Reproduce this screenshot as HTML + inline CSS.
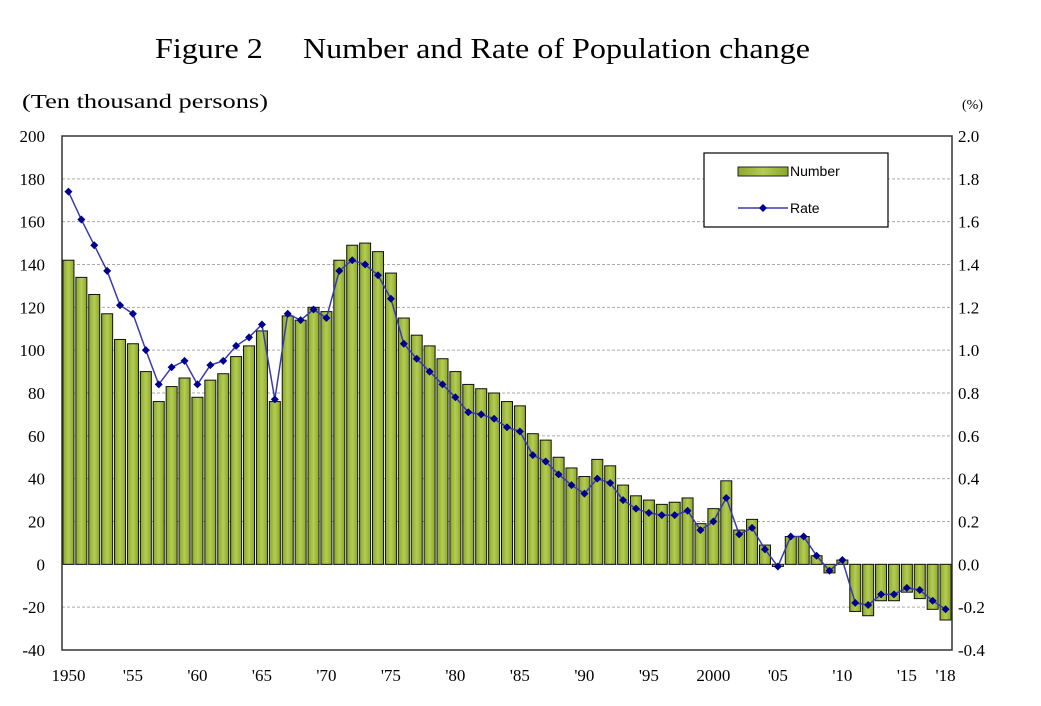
<!DOCTYPE html>
<html><head><meta charset="utf-8"><style>
body{margin:0;background:#fff;}
svg text{font-family:"Liberation Serif",serif;}
</style></head><body>
<svg width="1041" height="701" xmlns="http://www.w3.org/2000/svg">
<defs><linearGradient id="g" x1="0" x2="1"><stop offset="0" stop-color="#8aa828"/><stop offset="0.5" stop-color="#b5cc55"/><stop offset="1" stop-color="#8aa828"/></linearGradient></defs>
<text x="155" y="58" font-size="28" textLength="655" lengthAdjust="spacingAndGlyphs">Figure 2　 Number and Rate of Population change</text>
<text x="22" y="108" font-size="20" textLength="246" lengthAdjust="spacingAndGlyphs">(Ten thousand persons)</text>
<text x="962" y="109" font-size="14">(%)</text>
<g id="grid"></g><g id="bars"></g><g id="line"></g><g id="axes"></g>
<g>
<rect x="704" y="153" width="184" height="74" fill="#fff" stroke="#000" stroke-width="1.2"/>
<rect x="738" y="167" width="50" height="9" fill="url(#g)" stroke="#222"/>
<text x="790" y="176" font-size="14" style="font-family:'Liberation Sans',sans-serif">Number</text>
<line x1="738" y1="208" x2="788" y2="208" stroke="#3a3ab0" stroke-width="1.5"/>
<path d="M763 204 L767 208 L763 212 L759 208Z" fill="#000090"/>
<text x="790" y="213" font-size="14" style="font-family:'Liberation Sans',sans-serif">Rate</text>
</g>
</svg>
<script>
const years=[];for(let y=1950;y<=2018;y++)years.push(y);
const numbers=[142,134,126,117,105,103,90,76,83,87,78,86,89,97,102,109,76,116,114,120,118,142,149,150,146,136,115,107,102,96,90,84,82,80,76,74,61,58,50,45,41,49,46,37,32,30,28,29,31,19,26,39,16,21,9,-1,13,13,4,-4,2,-22,-24,-17,-17,-13,-16,-21,-26];
const rates=[1.74,1.61,1.49,1.37,1.21,1.17,1.00,0.84,0.92,0.95,0.84,0.93,0.95,1.02,1.06,1.12,0.77,1.17,1.14,1.19,1.15,1.37,1.42,1.40,1.35,1.24,1.03,0.96,0.90,0.84,0.78,0.71,0.70,0.68,0.64,0.62,0.51,0.48,0.42,0.37,0.33,0.40,0.38,0.30,0.26,0.24,0.23,0.23,0.25,0.16,0.20,0.31,0.14,0.17,0.07,-0.01,0.13,0.13,0.04,-0.03,0.02,-0.18,-0.19,-0.14,-0.14,-0.11,-0.12,-0.17,-0.21];
const leftTicks=[200,180,160,140,120,100,80,60,40,20,0,-20,-40];
const rightTicks=["2.0","1.8","1.6","1.4","1.2","1.0","0.8","0.6","0.4","0.2","0.0","-0.2","-0.4"];
const xLabels={1950:"1950",1955:"'55",1960:"'60",1965:"'65",1970:"'70",1975:"'75",1980:"'80",1985:"'85",1990:"'90",1995:"'95",2000:"2000",2005:"'05",2010:"'10",2015:"'15",2018:"'18"};
const L=62,R=952,T=136,B=650,slot=(R-L)/years.length;
const y1=v=>T+(200-v)*(B-T)/240, y2=v=>T+(2-v)*(B-T)/2.4, xc=i=>L+(i+0.5)*slot;
const NS="http://www.w3.org/2000/svg";
function mk(p,t,a){const e=document.createElementNS(NS,t);for(const k in a)e.setAttribute(k,a[k]);document.getElementById(p).appendChild(e);return e;}
leftTicks.forEach((v,i)=>{
 if(v!==200&&v!==-40){const g=mk('grid','line',{x1:L,x2:R,y1:y1(v),y2:y1(v),stroke:'#aaa','stroke-dasharray':v===0?'':'3,2'});
 
 }
 const t=mk('axes','text',{x:45,y:y1(v)+6,'font-size':17,'text-anchor':'end'});t.textContent=v;
 
 
 const t2=mk('axes','text',{x:958,y:y1(v)+6,'font-size':17});t2.textContent=rightTicks[i];
 
 
});
numbers.forEach((v,i)=>{
 const a=y1(Math.max(v,0)),b=y1(Math.min(v,0));
 const r=mk('bars','rect',{x:xc(i)-5.5,y:a,width:11,height:Math.max(b-a,0.5),fill:'url(#g)',stroke:'#111','stroke-width':1});
 
 
});
const pl=mk('line','polyline',{points:rates.map((v,i)=>xc(i)+','+y2(v)).join(' '),fill:'none',stroke:'#3a3ab0','stroke-width':1.5});


rates.forEach((v,i)=>{const x=xc(i),y=y2(v);
 const p=mk('line','path',{d:`M${x} ${y-4}L${x+4} ${y}L${x} ${y+4}L${x-4} ${y}Z`,fill:'#000090'});
 
 });
const f=mk('axes','rect',{x:L,y:T,width:R-L,height:B-T,fill:'none',stroke:'#333','stroke-width':1.5});


years.forEach((y,i)=>{if(xLabels[y]){const t=mk('axes','text',{x:xc(i),y:681,'font-size':17,'text-anchor':'middle'});t.textContent=xLabels[y];
 
 }});
</script>
</body></html>
